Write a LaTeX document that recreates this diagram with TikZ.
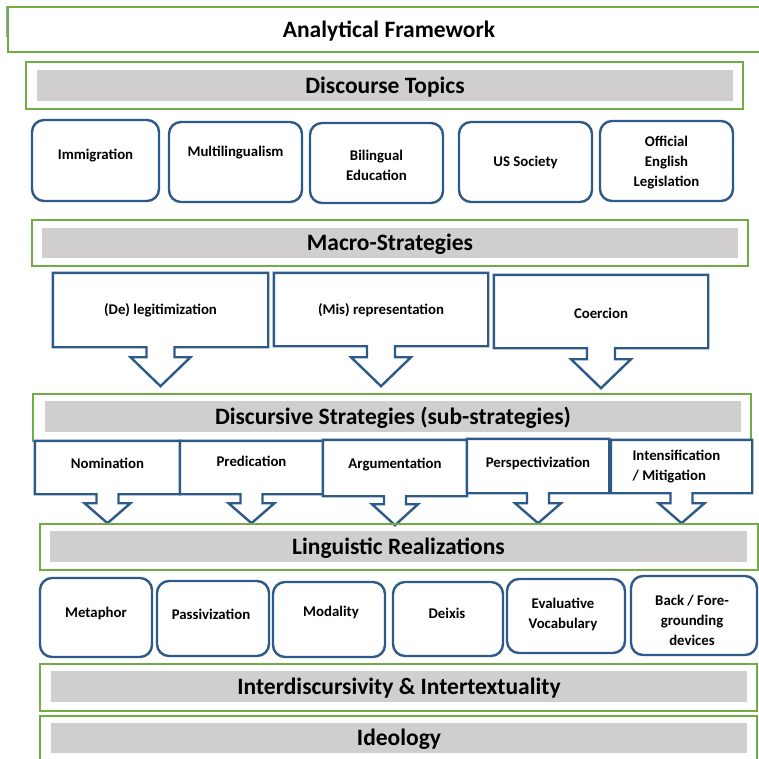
\documentclass[tikz,border=0pt]{standalone}
\usepackage{fontspec}
\setmainfont{Carlito}
\usetikzlibrary{calc}

\definecolor{frgreen}{HTML}{70AD47}
\definecolor{bargray}{HTML}{D0CECE}
\definecolor{boxblue}{HTML}{2E5A8A}

\newcommand{\hdfont}{\bfseries\fontsize{23.5}{27}\selectfont}
\newcommand{\lblfont}{\bfseries\fontsize{14.8}{20}\selectfont}

% box outline with a hollow arrow hanging from its bottom edge
% #1 node, #2 half shaft, #3 half head, #4 neck, #5 head length
\newcommand{\calloutshape}[5]{%
  \draw[callline] (#1.south) ++(#2,0) -- (#1.south east) -- (#1.north east)
    -- (#1.north west) -- (#1.south west) -- ($(#1.south)+(-#2,0)$)
    -- ++(0,#4) -- ++({#2-#3},0) -- ++(#3,#5) -- ++(#3,-#5)
    -- ++({#2-#3},0) -- cycle;}

\begin{document}
\begin{tikzpicture}[x=1pt, y=-1pt,
    greenframe/.style={draw=frgreen, line width=2.6pt, inner sep=0pt},
    bar/.style={fill=bargray, inner sep=0pt, font=\hdfont,
      text height=17.6pt, text depth=2.4pt},
    topic/.style={draw=boxblue, line width=2.4pt, rounded corners=12pt, inner sep=0pt},
    callbox/.style={inner sep=0pt},
    callline/.style={draw=boxblue, line width=2.4pt, fill=white, line join=miter},
    lbl/.style={font=\lblfont, align=center, yshift=-1pt}
]
\useasboundingbox (0,0) rectangle (759,759);
\clip (0,0) rectangle (759,759);

% title
\node[greenframe, minimum width=762pt, minimum height=45pt, font=\hdfont,
  text height=17.6pt, text depth=2.4pt] (title) at (389,29.5) {Analytical Framework};
\draw[boxblue!55, line width=0.8pt] (title.north west) -- ++(0,31);

% topics
\node[greenframe, minimum width=717pt, minimum height=47pt] (topicsfr) at (384.5,85.5) {};
\node[bar, minimum width=696pt, minimum height=31pt] (topics) at (385,85.5) {Discourse Topics};

\node[topic, minimum width=127pt, minimum height=81pt] (immig) at (95.5,160.5) {};
\node[lbl] (immig-l) at (95.5,155) {Immigration};
\node[topic, minimum width=133pt, minimum height=80pt] (multi) at (235.5,162) {};
\node[lbl] (multi-l) at (235.5,152) {Multilingualism};
\node[topic, minimum width=133pt, minimum height=80pt] (biling) at (376.5,163) {};
\node[lbl] (biling-l) at (376.5,164) {Bilingual\\Education};
\node[topic, minimum width=133pt, minimum height=80pt] (ussoc) at (525.5,162) {};
\node[lbl] (ussoc-l) at (525.5,161) {US Society};
\node[topic, minimum width=133pt, minimum height=80pt] (offic) at (666.5,161) {};
\node[lbl] (offic-l) at (666.5,162) {Official\\English\\Legislation};

% macro-strategies
\node[greenframe, minimum width=716pt, minimum height=46pt] (macrofr) at (390,243) {};
\node[bar, minimum width=696pt, minimum height=30pt] (macro) at (390,243) {Macro-Strategies};

\node[callbox, minimum width=215pt, minimum height=74pt] (legit) at (160.5,310) {};
\calloutshape{legit}{14}{30}{10}{29}
\node[lbl] (legit-l) at (160.5,309) {(De) legitimization};
\node[callbox, minimum width=214pt, minimum height=73pt] (misrep) at (381,309.5) {};
\calloutshape{misrep}{14}{30}{11}{29}
\node[lbl] (misrep-l) at (381,309) {(Mis) representation};
\node[callbox, minimum width=214pt, minimum height=73pt] (coerc) at (601,311.5) {};
\calloutshape{coerc}{14}{30}{11}{29}
\node[lbl] (coerc-l) at (601,312) {Coercion};

% discursive strategies
\node[greenframe, minimum width=718pt, minimum height=47pt] (discfr) at (392,417.5) {};
\node[bar, minimum width=696pt, minimum height=31pt] (disc) at (393,416.5) {Discursive Strategies (sub-strategies)};

\node[callbox, minimum width=145pt, minimum height=53pt] (nomin) at (107.5,467.5) {};
\calloutshape{nomin}{11}{23}{9}{20}
\node[lbl] (nomin-l) at (107.5,462) {Nomination};
\node[callbox, minimum width=143pt, minimum height=53pt] (predic) at (251.5,467.5) {};
\calloutshape{predic}{11}{23}{9}{20}
\node[lbl] (predic-l) at (251.5,460) {Predication};
\node[callbox, minimum width=144pt, minimum height=56pt] (argum) at (395,468) {};
\calloutshape{argum}{11}{23}{8}{21}
\node[lbl] (argum-l) at (395,464) {Argumentation};
\node[callbox, minimum width=142pt, minimum height=54pt] (persp) at (538,466) {};
\calloutshape{persp}{11}{23}{10}{20}
\node[lbl] (persp-l) at (538,462) {Perspectivization};
\node[callbox, minimum width=141pt, minimum height=53pt] (intens) at (681.5,466.5) {};
\calloutshape{intens}{11}{23}{10}{20}
\node[lbl, align=left, anchor=west] (intens-l) at (629,466) {Intensification\\/ Mitigation};

% linguistic realizations
\node[greenframe, minimum width=718pt, minimum height=46pt] (lingfr) at (399,547) {};
\node[bar, minimum width=697pt, minimum height=31pt] (ling) at (398.5,546.5) {Linguistic Realizations};

\node[topic, minimum width=112pt, minimum height=79pt] (metaph) at (96,617.5) {};
\node[lbl] (metaph-l) at (96,612) {Metaphor};
\node[topic, minimum width=112pt, minimum height=75pt] (passiv) at (213,618.5) {};
\node[lbl] (passiv-l) at (211,613) {Passivization};
\node[topic, minimum width=112pt, minimum height=75pt] (modal) at (329,619.5) {};
\node[lbl] (modal-l) at (331,611) {Modality};
\node[topic, minimum width=110pt, minimum height=74pt] (deixis) at (448,619) {};
\node[lbl] (deixis-l) at (447,612) {Deixis};
\node[topic, minimum width=118pt, minimum height=74pt] (evalv) at (566,616) {};
\node[lbl] (evalv-l) at (563,613) {Evaluative\\Vocabulary};
\node[topic, minimum width=126pt, minimum height=79pt] (backfg) at (694,615.5) {};
\node[lbl] (backfg-l) at (692,619) {Back / Fore-\\grounding\\devices};

% interdiscursivity, ideology
\node[greenframe, minimum width=717pt, minimum height=47pt] (interfr) at (398.5,687.5) {};
\node[bar, minimum width=696pt, minimum height=31pt] (inter) at (399,686.5) {Interdiscursivity \& Intertextuality};
\node[greenframe, minimum width=717pt, minimum height=54pt] (ideofr) at (398.5,743) {};
\node[bar, minimum width=696pt, minimum height=30pt] (ideo) at (399,738) {Ideology};

\end{tikzpicture}
\end{document}
